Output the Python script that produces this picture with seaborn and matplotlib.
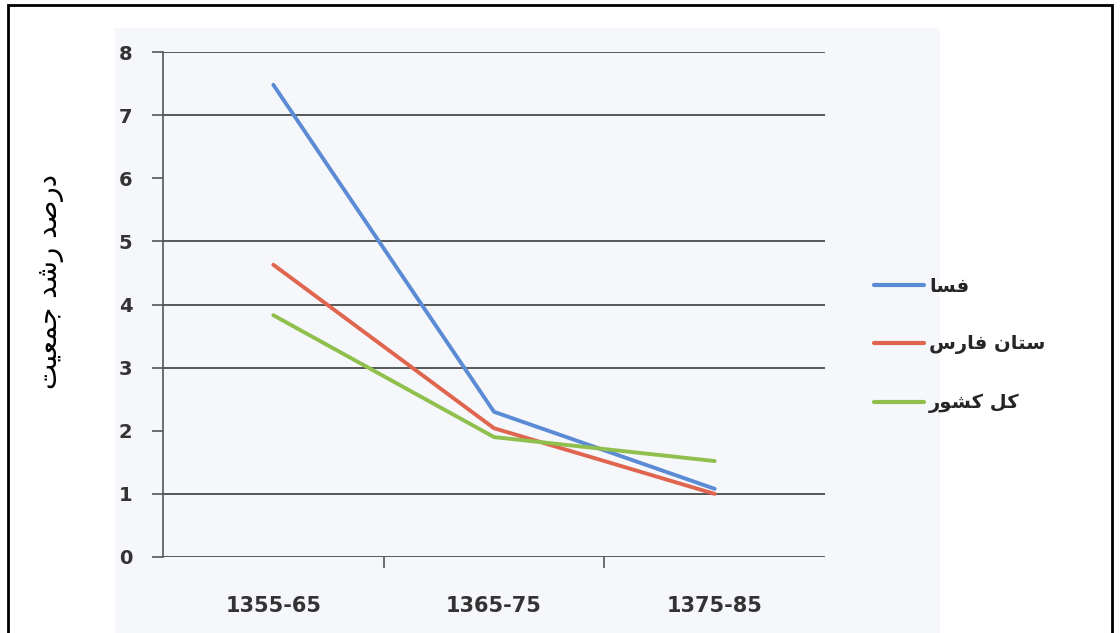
import matplotlib
matplotlib.use('Agg')
import matplotlib.pyplot as plt
from matplotlib.patches import Rectangle
import numpy as np
import pandas as pd
import seaborn as sns

# ---- data ----
periods = ['1355-65', '1365-75', '1375-85']
fasa = [7.48, 2.30, 1.08]
fars = [4.63, 2.04, 1.00]
country = [3.83, 1.90, 1.52]

# Persian labels written in presentation forms, visual (left-to-right) order
# فسا / (ا)ستان فارس / کل کشور
lbl_fasa = '\uFE8E\uFEB4\uFED3'
lbl_fars = '\uFEB1\uFEAD\uFE8E\uFED3 \uFEE5\uFE8E\uFE98\uFEB3'
lbl_country = '\uFEAD\uFEEE\uFEB8\uFEDB \uFEDE\uFEDB'
# درصد رشد جمعیت
ylabel_txt = '\uFE96\uFEF4\uFECC\uFEE4\uFE9F \uFEAA\uFEB7\uFEAD \uFEAA\uFEBB\uFEAD\uFEA9'

series_names = [lbl_fasa, lbl_fars, lbl_country]
colors = ['#5b8bd4', '#e0654f', '#8fbf4c']
y_ticks = [0, 1, 2, 3, 4, 5, 6, 7, 8]

df = pd.DataFrame({
    'period': periods * 3,
    'value': fasa + fars + country,
    'series': np.repeat(series_names, len(periods)),
})

sns.set_style('white')
plt.rcParams['font.family'] = ['DejaVu Sans']

fig = plt.figure(figsize=(11.2, 6.33), dpi=100)
# scanned picture area + frame
fig.patches.append(Rectangle((115 / 1120, 0), 825 / 1120, 1 - 28 / 633,
                             transform=fig.transFigure, facecolor='#f5f7fa',
                             edgecolor='none', zorder=-5))
fig.patches.append(Rectangle((8 / 1120, -0.02), 1104 / 1120, 1 - 5 / 633 + 0.02,
                             transform=fig.transFigure, facecolor='none',
                             edgecolor='black', linewidth=2, zorder=10))

ax = fig.add_axes([163 / 1120, 1 - 557 / 633, 662 / 1120, 505 / 633])
ax.set_facecolor('none')

sns.lineplot(data=df, x='period', y='value', hue='series', hue_order=series_names,
             palette=colors, sort=False, linewidth=2.8, ax=ax, legend=False)

ax.set_xlim(-0.5, 2.5)
ax.set_ylim(0, 8)
ax.set_yticks(y_ticks)
ax.set_xticks(range(len(periods)))
ax.set_xticklabels(periods)
ax.set_xticks([0.5, 1.5], minor=True)
ax.tick_params(axis='x', which='major', bottom=True, length=0, pad=28,
               labelsize=15, labelcolor='#333333')
ax.tick_params(axis='x', which='minor', bottom=True, length=8, color='#555555',
               width=1.2, direction='out')
ax.tick_params(axis='y', left=True, length=8, color='#555555', width=1.2, direction='out',
               pad=14, labelsize=14, labelcolor='#333333')
for t in ax.get_xticklabels() + ax.get_yticklabels():
    t.set_fontweight('bold')

ax.grid(axis='y', color='#3c3c3c', linewidth=1.2)
ax.grid(axis='x', visible=False)
# gridlines at 2 and 6 do not show in the scan
for v, gl in zip(y_ticks, ax.get_ygridlines()):
    if v in (2, 6):
        gl.set_visible(False)

for s in ['top', 'right', 'bottom']:
    ax.spines[s].set_visible(False)
ax.spines['left'].set_color('#555555')
ax.spines['left'].set_linewidth(1.2)
ax.set_xlabel('')
ax.set_ylabel('')

# legend drawn with the series colours
handles = [plt.Line2D([], [], color=c, linewidth=3) for c in colors]
fig.legend(handles, series_names, loc='center left',
           bbox_to_anchor=(856 / 1120, 1 - 345 / 633), frameon=False,
           handlelength=2.6, handletextpad=0.25, labelspacing=2.0,
           prop={'weight': 'bold', 'size': 14})

fig.text(50 / 1120, 1 - 282 / 633, ylabel_txt, rotation=90, ha='center', va='center',
         fontsize=20, color='black')

fig.savefig('out.png', dpi=100)
